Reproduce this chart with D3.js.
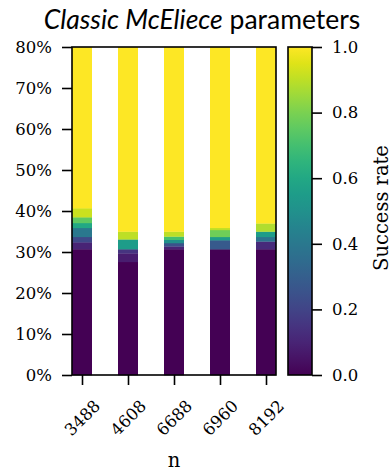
<!DOCTYPE html>
<html lang="en">
<head>
<meta charset="UTF-8">
<title>Classic McEliece parameters</title>
<script src="https://cdn.jsdelivr.net/npm/d3@7"></script>
<style>
    body { margin: 0; background: #fff; }
    svg { display: block; }
    .tick text { font-family: "DejaVu Serif", serif; font-size: 16.5px; fill: #000; }
</style>
</head>
<body>
<div id="graphDiv"></div>
<script>
// n values (columns)
const nValues = ["3488", "4608", "6688", "6960", "8192"];

// For each n: lower edge (%) of each band and the success rate inside it.
// A band runs up to the next edge; the last one runs up to 80%.
const edges3488 = [0, 30.7, 32.4, 33.7, 35.9, 37.1, 38.5, 40.7];
const rates3488 = [0.0, 0.10, 0.22, 0.40, 0.60, 0.75, 0.92, 1.0];
const edges4608 = [0, 27.6, 29.7, 30.7, 33.1, 35.0];
const rates4608 = [0.0, 0.08, 0.15, 0.55, 0.90, 1.0];
const edges6688 = [0, 30.7, 31.4, 32.2, 33.0, 33.8, 35.0];
const rates6688 = [0.0, 0.10, 0.25, 0.50, 0.70, 0.90, 1.0];
const edges6960 = [0, 30.7, 32.9, 33.7, 35.4, 35.9];
const rates6960 = [0.0, 0.28, 0.55, 0.78, 0.90, 1.0];
const edges8192 = [0, 30.7, 32.6, 33.7, 35.0, 37.0];
const rates8192 = [0.0, 0.12, 0.38, 0.55, 0.88, 1.0];

const yTicks = [0, 10, 20, 30, 40, 50, 60, 70, 80];
const cbTicks = [0, 0.2, 0.4, 0.6, 0.8, 1.0];

const width = 392, height = 471;
const plot = {left: 72, right: 276, top: 47, bottom: 375};
const cb = {left: 288, right: 312};

const series = [
    {n: nValues[0], edges: edges3488, rates: rates3488},
    {n: nValues[1], edges: edges4608, rates: rates4608},
    {n: nValues[2], edges: edges6688, rates: rates6688},
    {n: nValues[3], edges: edges6960, rates: rates6960},
    {n: nValues[4], edges: edges8192, rates: rates8192}
];

const x = d3.scalePoint().domain(nValues).range([82, 266]);
const barW = 20;
const y = d3.scaleLinear().domain([0, 80]).range([plot.bottom, plot.top]);
const color = d3.interpolateViridis;

const svg = d3.select("#graphDiv").append("svg")
    .attr("width", width)
    .attr("height", height);

// Bands of each column
series.forEach(s => {
    const bands = s.edges.map((e, i) => ({
        lo: e,
        hi: i + 1 < s.edges.length ? s.edges[i + 1] : 80,
        rate: s.rates[i]
    }));
    svg.append("g").selectAll("rect")
        .data(bands)
        .join("rect")
        .attr("x", x(s.n) - barW / 2)
        .attr("width", barW)
        .attr("y", d => y(d.hi))
        .attr("height", d => y(d.lo) - y(d.hi) + 0.3)
        .attr("fill", d => color(d.rate));
});

// Axes
svg.append("g")
    .attr("transform", `translate(${plot.left},0)`)
    .call(d3.axisLeft(y).tickValues(yTicks).tickFormat(d => d + "%").tickSize(10).tickPadding(10))
    .call(g => g.select(".domain").remove())
    .call(g => g.selectAll(".tick line").attr("stroke", "#000").attr("stroke-width", 1.6));

svg.append("g")
    .attr("transform", `translate(0,${plot.bottom})`)
    .call(d3.axisBottom(x).tickSize(10))
    .call(g => g.select(".domain").remove())
    .call(g => g.selectAll(".tick line").attr("stroke", "#000").attr("stroke-width", 1.6))
    .call(g => g.selectAll(".tick text")
        .attr("y", 0).attr("dy", 0)
        .attr("text-anchor", "middle")
        .attr("dominant-baseline", "central")
        .attr("transform", "translate(0,43) rotate(-45)"));

// Plot frame
svg.append("rect")
    .attr("x", plot.left).attr("y", plot.top)
    .attr("width", plot.right - plot.left).attr("height", plot.bottom - plot.top)
    .attr("fill", "none").attr("stroke", "#000").attr("stroke-width", 1.6);

// Colorbar
const defs = svg.append("defs");
const grad = defs.append("linearGradient")
    .attr("id", "viridis")
    .attr("x1", 0).attr("y1", 1).attr("x2", 0).attr("y2", 0);
grad.selectAll("stop")
    .data(d3.range(0, 1.0001, 0.05))
    .join("stop")
    .attr("offset", d => d)
    .attr("stop-color", d => color(d));

const cbScale = d3.scaleLinear().domain([0, 1]).range([plot.bottom, plot.top]);
svg.append("rect")
    .attr("x", cb.left).attr("y", plot.top)
    .attr("width", cb.right - cb.left).attr("height", plot.bottom - plot.top)
    .attr("fill", "url(#viridis)")
    .attr("stroke", "#000").attr("stroke-width", 1.6);

svg.append("g")
    .attr("transform", `translate(${cb.right},0)`)
    .call(d3.axisRight(cbScale).tickValues(cbTicks).tickFormat(d3.format(".1f")).tickSize(10).tickPadding(10))
    .call(g => g.select(".domain").remove())
    .call(g => g.selectAll(".tick line").attr("stroke", "#000").attr("stroke-width", 1.6));

svg.append("text")
    .attr("transform", `translate(381,${(plot.top + plot.bottom) / 2 - 3}) rotate(-90)`)
    .attr("text-anchor", "middle")
    .attr("dominant-baseline", "central")
    .style("font-family", "'DejaVu Serif', serif")
    .style("font-size", "19.5px")
    .text("Success rate");

// x label
svg.append("text")
    .attr("x", (plot.left + plot.right) / 2)
    .attr("y", 467)
    .attr("text-anchor", "middle")
    .style("font-family", "'DejaVu Serif', serif")
    .style("font-size", "19.5px")
    .text("n");

// Title
const title = svg.append("text")
    .attr("x", 202)
    .attr("y", 29)
    .attr("text-anchor", "middle")
    .style("font-family", "Lato, sans-serif")
    .style("font-size", "26.5px");
title.append("tspan").style("font-style", "italic").text("Classic McEliece");
title.append("tspan").text(" parameters");
</script>
</body>
</html>
